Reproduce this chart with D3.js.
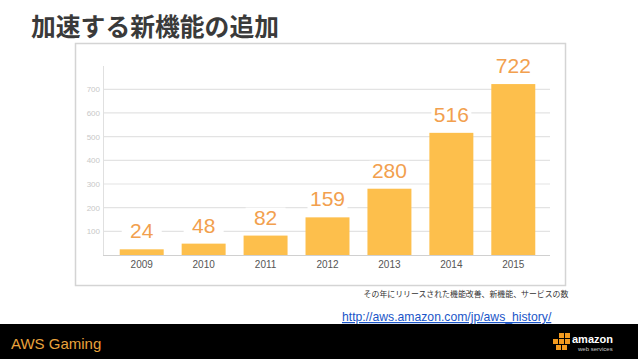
<!DOCTYPE html>
<html>
<head>
<meta charset="utf-8">
<script src="https://cdn.jsdelivr.net/npm/d3@7"></script>
<style>
  html, body { margin: 0; padding: 0; background: #fff; }
  svg { display: block; }
</style>
</head>
<body>
<div id="chart"></div>
<script>
var years = ["2009", "2010", "2011", "2012", "2013", "2014", "2015"];
var releases = [24, 48, 82, 159, 280, 516, 722];
var yTicks = [100, 200, 300, 400, 500, 600, 700];

var W = 638, H = 359;

var svg = d3.select("#chart").append("svg")
    .attr("width", W)
    .attr("height", H);

// title
svg.append("text")
    .attr("x", 31)
    .attr("y", 36)
    .attr("fill", "#3a3a3a")
    .style("font-family", "'Noto Sans CJK JP', sans-serif")
    .style("font-weight", "bold")
    .style("font-size", "24.8px")
    .text("加速する新機能の追加");

// chart frame
svg.append("rect")
    .attr("x", 75.5).attr("y", 43.5)
    .attr("width", 490).attr("height", 242)
    .attr("fill", "#fff")
    .attr("stroke", "#d4d4d4")
    .attr("stroke-width", 1.5);

var x = d3.scaleBand()
    .domain(years)
    .range([103, 552])
    .paddingInner(0.29)
    .paddingOuter(0.27);

var y = d3.scaleLinear()
    .domain([0, 800])
    .range([255, 65.6]);

var plot = svg.append("g");

// gridlines
plot.selectAll(".grid")
    .data(yTicks)
    .enter().append("line")
    .attr("class", "grid")
    .attr("x1", 103).attr("x2", 550)
    .attr("y1", d => y(d)).attr("y2", d => y(d))
    .attr("stroke", "#e3e3e3")
    .attr("stroke-width", 1.2);

// y axis
var yAxis = plot.append("g")
    .attr("transform", "translate(103,0)")
    .call(d3.axisLeft(y).tickValues(yTicks).tickSize(0).tickPadding(3));
yAxis.select(".domain").remove();
yAxis.selectAll("text")
    .attr("fill", "#c8c8c8")
    .style("font-family", "'Liberation Sans', Arial, sans-serif")
    .style("font-size", "8px");

plot.append("line")
    .attr("x1", 103.5).attr("x2", 103.5)
    .attr("y1", 66).attr("y2", 255)
    .attr("stroke", "#e0e0e0")
    .attr("stroke-width", 1);

// bars
plot.selectAll(".bar")
    .data(releases)
    .enter().append("rect")
    .attr("class", "bar")
    .attr("x", (d, i) => x(years[i]))
    .attr("y", d => y(d))
    .attr("width", x.bandwidth())
    .attr("height", d => y(0) - y(d))
    .attr("fill", "#fdbf4c");

// baseline
plot.append("line")
    .attr("x1", 103).attr("x2", 550)
    .attr("y1", 255.5).attr("y2", 255.5)
    .attr("stroke", "#d0d0d0")
    .attr("stroke-width", 1.2);

// x axis
var xAxis = plot.append("g")
    .attr("transform", "translate(0,256)")
    .call(d3.axisBottom(x).tickSize(0).tickPadding(5));
xAxis.select(".domain").remove();
xAxis.selectAll("text")
    .attr("fill", "#555")
    .style("font-family", "'Liberation Sans', Arial, sans-serif")
    .style("font-size", "10px");

// value labels with white background
var lab = plot.selectAll(".lab")
    .data(releases)
    .enter().append("g")
    .attr("class", "lab")
    .attr("transform", (d, i) => "translate(" + (x(years[i]) + x.bandwidth() / 2) + "," + (y(d) - 11) + ")");

lab.append("rect")
    .attr("x", -x.bandwidth() / 2 + 2)
    .attr("y", -17)
    .attr("width", x.bandwidth() - 4)
    .attr("height", 20)
    .attr("fill", "#fff");

lab.append("text")
    .attr("text-anchor", "middle")
    .attr("fill", "#f2a04e")
    .style("font-family", "'Liberation Sans', Arial, sans-serif")
    .style("font-size", "21px")
    .text(d => d);

// caption
svg.append("text")
    .attr("x", 466)
    .attr("y", 297)
    .attr("text-anchor", "middle")
    .attr("fill", "#333")
    .style("font-family", "'Noto Sans CJK JP', sans-serif")
    .style("font-size", "7.9px")
    .text("その年にリリースされた機能改善、新機能、サービスの数");

// source link
svg.append("text")
    .attr("x", 342)
    .attr("y", 321)
    .attr("fill", "#1a55c8")
    .attr("text-decoration", "underline")
    .style("font-family", "'Liberation Sans', Arial, sans-serif")
    .style("font-size", "12.2px")
    .text("http://aws.amazon.com/jp/aws_history/");

// footer band
svg.append("rect")
    .attr("x", 0).attr("y", 324)
    .attr("width", W).attr("height", H - 324)
    .attr("fill", "#000");

svg.append("text")
    .attr("x", 11)
    .attr("y", 349)
    .attr("fill", "#e8a33c")
    .style("font-family", "'Liberation Sans', Arial, sans-serif")
    .style("font-size", "15px")
    .text("AWS Gaming");

// amazon web services logo
var logo = svg.append("g").attr("transform", "translate(553,333)");
var cubes = [[6, 0], [12, 0], [0, 6], [6, 6], [12, 6], [3, 12], [9, 12]];
logo.selectAll("rect")
    .data(cubes)
    .enter().append("rect")
    .attr("x", d => d[0]).attr("y", d => d[1])
    .attr("width", 5).attr("height", 5)
    .attr("fill", "#f29a1f");
logo.append("text")
    .attr("x", 19).attr("y", 10)
    .attr("fill", "#fff")
    .style("font-family", "'Liberation Sans', Arial, sans-serif")
    .style("font-weight", "bold")
    .style("font-size", "11px")
    .text("amazon");
logo.append("text")
    .attr("x", 25).attr("y", 18)
    .attr("fill", "#ccc")
    .style("font-family", "'Liberation Sans', Arial, sans-serif")
    .style("font-size", "6px")
    .text("web services");
</script>
</body>
</html>
